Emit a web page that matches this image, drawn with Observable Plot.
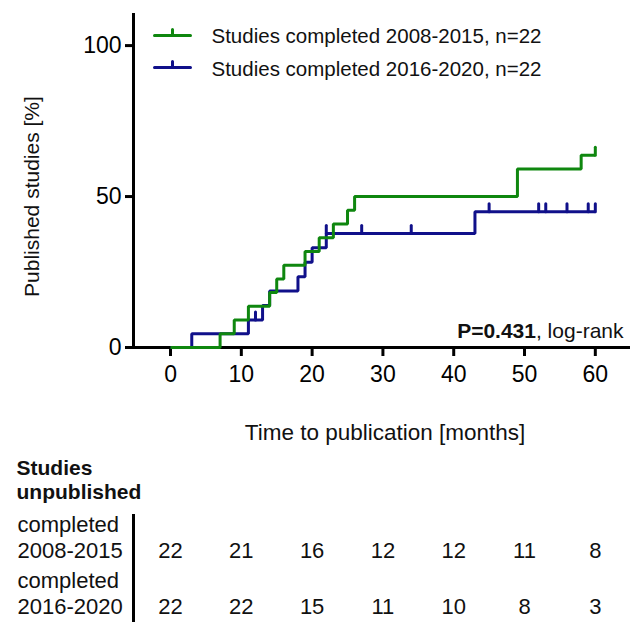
<!DOCTYPE html>
<html>
<head>
<meta charset="utf-8">
<script src="https://cdn.jsdelivr.net/npm/d3@7"></script>
<script src="https://cdn.jsdelivr.net/npm/@observablehq/plot@0.6"></script>
<style>
  body { margin: 0; background: #fff; }
  #chart svg { display: block; }
</style>
</head>
<body>
<div id="chart"></div>
<script>
// ---------- data ----------
const seriesNames = ["Studies completed 2008-2015, n=22", "Studies completed 2016-2020, n=22"];
const seriesColors = ["#0f870f", "#10108a"];

// group 2008-2015 (green): cumulative published [%] after each step
const greenTimes = [0, 7, 9, 11, 14, 15, 16, 19, 21, 23, 25, 26, 49, 58, 60];
const greenPct   = [0, 4.55, 9.09, 13.64, 18.18, 22.73, 27.27, 31.82, 36.36, 40.91, 45.45, 50.0, 59.09, 63.64, 63.64];
const greenCensorTimes = [60];
const greenCensorPct   = [63.64];

// group 2016-2020 (blue)
const blueTimes = [0, 3, 11, 13, 14, 18, 19, 20, 22, 43, 60];
const bluePct   = [0, 4.55, 9.09, 13.9, 18.7, 23.4, 28.2, 33.0, 37.8, 45.0, 45.0];
const blueCensorTimes = [12, 22, 27, 34, 45, 52, 53, 56, 59, 60];
const blueCensorPct   = [9.09, 37.8, 37.8, 37.8, 45.0, 45.0, 45.0, 45.0, 45.0, 45.0];

const xTicks = [0, 10, 20, 30, 40, 50, 60];
const yTicks = [0, 50, 100];
const xLabel = "Time to publication [months]";
const yLabel = "Published studies [%]";
const pBold = "P=0.431";
const pRest = ", log-rank";

// at-risk table
const tableHeader = "Studies\nunpublished";
const tableRows = ["2008-2015", "2016-2020"];
const tableRowPrefix = "completed";
const riskTimes = [0, 10, 20, 30, 40, 50, 60];
const greenUnpublished = [22, 21, 16, 12, 12, 11, 8];
const blueUnpublished  = [22, 22, 15, 11, 10, 8, 3];

// ---------- build ----------
const font = "'Liberation Sans', Arial, Helvetica, sans-serif";
const xDomain = [-5.23, 64.97];

const greenData = greenTimes.map((t, i) => ({t, p: greenPct[i]}));
const blueData = blueTimes.map((t, i) => ({t, p: bluePct[i]}));
const greenCensor = greenCensorTimes.map((t, i) => ({t, p: greenCensorPct[i]}));
const blueCensor = blueCensorTimes.map((t, i) => ({t, p: blueCensorPct[i]}));

const tickShape = { draw(ctx, l) { ctx.moveTo(0, 0); ctx.lineTo(0, -l); } };
const legendShape = { draw(ctx, l) { ctx.moveTo(0, 0); ctx.lineTo(l, 0); ctx.moveTo(l / 2, 0); ctx.lineTo(l / 2, -6); } };

const lineOpts = {strokeWidth: 3, strokeLinejoin: "miter", strokeLinecap: "butt", curve: "step-after"};

const chart = Plot.plot({
  width: 630,
  height: 450,
  marginLeft: 133,
  marginRight: 0,
  marginTop: 14,
  marginBottom: 103,
  style: {fontFamily: font, background: "#fff", color: "#000", overflow: "visible"},
  x: {domain: xDomain},
  y: {domain: [0, 110.3]},
  marks: [
    Plot.axisX(xTicks, {tickSize: 9, tickPadding: 9, strokeWidth: 3, fontSize: 23, label: null}),
    Plot.axisY(yTicks, {tickSize: 8, tickPadding: 4, strokeWidth: 3, fontSize: 23, label: null}),
    Plot.frame({anchor: "left", strokeWidth: 3}),
    Plot.frame({anchor: "bottom", strokeWidth: 3}),
    Plot.line(blueData, {x: "t", y: "p", stroke: seriesColors[1], ...lineOpts}),
    Plot.vector(blueCensor, {x: "t", y: "p", length: 8, anchor: "start", shape: tickShape, stroke: seriesColors[1], strokeWidth: 3, fill: "none"}),
    Plot.line(greenData, {x: "t", y: "p", stroke: seriesColors[0], ...lineOpts}),
    Plot.vector(greenCensor, {x: "t", y: "p", length: 8, anchor: "start", shape: tickShape, stroke: seriesColors[0], strokeWidth: 3, fill: "none"}),
    // legend
    Plot.vector([seriesNames[0]], {frameAnchor: "top-left", dx: 21, dy: 21, length: 36, anchor: "start", shape: legendShape, stroke: seriesColors[0], strokeWidth: 3, fill: "none"}),
    Plot.vector([seriesNames[1]], {frameAnchor: "top-left", dx: 21, dy: 53, length: 36, anchor: "start", shape: legendShape, stroke: seriesColors[1], strokeWidth: 3, fill: "none"}),
    Plot.text([seriesNames[0]], {text: d => d, frameAnchor: "top-left", dx: 78, dy: 22, textAnchor: "start", lineAnchor: "middle", fontSize: 20.5, fill: "#111"}),
    Plot.text([seriesNames[1]], {text: d => d, frameAnchor: "top-left", dx: 78, dy: 55, textAnchor: "start", lineAnchor: "middle", fontSize: 20.5, fill: "#111"}),
    // p-value
    Plot.text([pBold + pRest], {text: d => d, frameAnchor: "bottom-right", dx: -7, dy: -16, textAnchor: "end", lineAnchor: "middle", fontSize: 21, fill: "#111", className: "pval"}),
    // axis labels
    Plot.text([xLabel], {text: d => d, frameAnchor: "bottom", dx: 3, dy: 92, lineAnchor: "bottom", fontSize: 22.5, fill: "#111"}),
    Plot.text([yLabel], {text: d => d, y: () => d3.mean(d3.extent(yTicks)), frameAnchor: "left", dx: -101, rotate: -90, textAnchor: "middle", lineAnchor: "middle", fontSize: 21, fill: "#111"})
  ]
});

// bold "P=0.431" part
const pText = chart.querySelector(".pval text");
if (pText) {
  pText.textContent = "";
  const b = document.createElementNS("http://www.w3.org/2000/svg", "tspan");
  b.setAttribute("font-weight", "bold");
  b.textContent = pBold;
  pText.appendChild(b);
  pText.appendChild(document.createTextNode(pRest));
}

const tableData = [];
riskTimes.forEach((t, i) => {
  tableData.push({t, row: tableRows[0], n: greenUnpublished[i]});
  tableData.push({t, row: tableRows[1], n: blueUnpublished[i]});
});

const table = Plot.plot({
  width: 630,
  height: 173,
  marginLeft: 133,
  marginRight: 0,
  marginTop: 65,
  marginBottom: 3,
  style: {fontFamily: font, background: "#fff", color: "#000", overflow: "visible"},
  x: {domain: xDomain, axis: null},
  y: {type: "point", domain: tableRows, range: [107, 163], padding: 0, axis: null},
  marks: [
    Plot.frame({anchor: "left", strokeWidth: 3}),
    Plot.text(tableData, {x: "t", y: "row", text: d => String(d.n), lineAnchor: "bottom", fontSize: 22, fill: "#111"}),
    Plot.text(tableRows, {y: d => d, text: d => tableRowPrefix + "\n" + d, frameAnchor: "left", dx: -116, textAnchor: "start", lineAnchor: "bottom", lineHeight: 1.18, fontSize: 22, fill: "#111"}),
    Plot.text([tableHeader], {text: d => d, frameAnchor: "top-left", dx: -117, dy: -58, textAnchor: "start", lineAnchor: "top", lineHeight: 1.15, fontSize: 21, fontWeight: "bold", fill: "#111"})
  ]
});

const root = document.getElementById("chart");
root.appendChild(chart);
root.appendChild(table);
</script>
</body>
</html>
